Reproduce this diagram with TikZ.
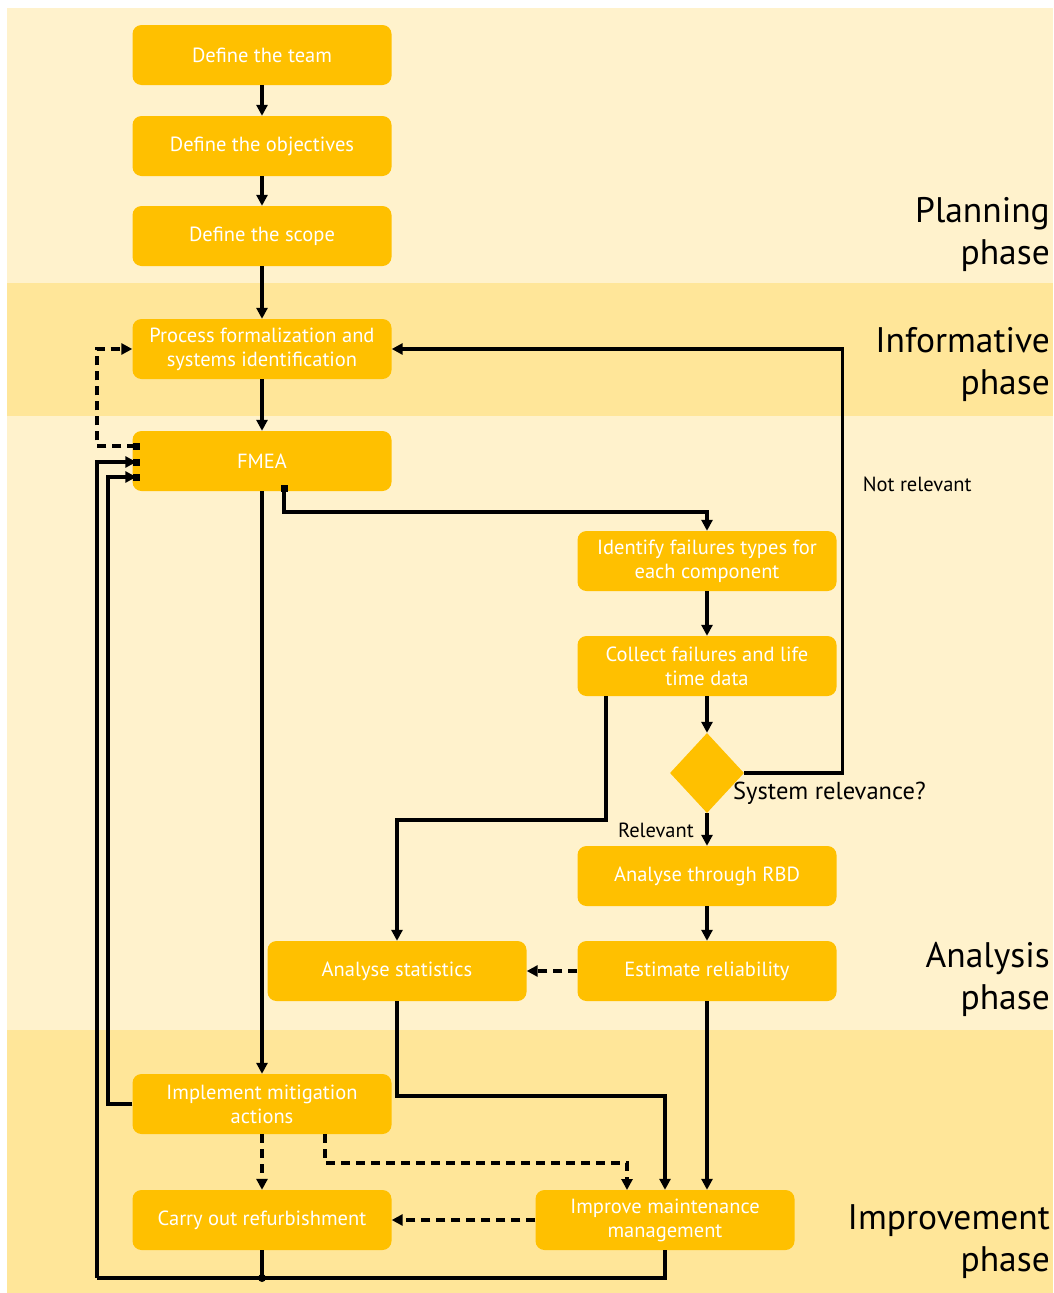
\documentclass[tikz,border=0pt]{standalone}
\usepackage{fontspec}
\setmainfont{PT Sans}
\usetikzlibrary{arrows.meta,shapes.geometric}
\definecolor{bandlight}{HTML}{FFF2CC}
\definecolor{banddark}{HTML}{FFE699}
\definecolor{boxfill}{HTML}{FFC000}
\tikzset{
  tri/.tip={Triangle[length=11pt,width=11pt]},
  stepbox/.style={draw=none, fill=boxfill, rounded corners=9pt, minimum width=259pt,
    minimum height=60pt, text=white, align=center, font=\fontsize{20.5}{24}\selectfont,
    inner sep=2pt},
  decision/.style={diamond, fill=boxfill, minimum width=74pt, minimum height=80pt, inner sep=0pt},
  flow/.style={line width=3.2pt, -tri},
  link/.style={line width=3.2pt},
  dashedflow/.style={flow, dash pattern=on 9pt off 6pt},
  phase/.style={anchor=east, align=right, font=\fontsize{35.5}{42}\selectfont, inner sep=0pt},
  edgelabel/.style={font=\fontsize{20.5}{24}\selectfont, inner sep=0pt}
}
\begin{document}
\begin{tikzpicture}[x=1pt,y=-1pt]
\useasboundingbox (0,0) rectangle (1053,1293);
% phase bands
\fill[bandlight] (7,8) rectangle (1053,283);
\fill[banddark] (7,283) rectangle (1053,416);
\fill[bandlight] (7,416) rectangle (1053,1030);
\fill[banddark] (7,1030) rectangle (1053,1293);

% phase titles
\node[phase] (pplan) at (1050,234) {Planning\\phase};
\node[phase] (pinfo) at (1050,364) {Informative\\phase};
\node[phase] (panal) at (1050,979) {Analysis\\phase};
\node[phase] (pimpr) at (1050,1242) {Improvement\\phase};

% steps
\node[stepbox] (team) at (262,55) {Define the team};
\node[stepbox] (obj) at (262,146) {Define the objectives};
\node[stepbox] (scope) at (262,236) {Define the scope};
\node[stepbox] (proc) at (262,349) {Process formalization and\\systems identification};
\node[stepbox] (fmea) at (262,461) {FMEA};
\node[stepbox] (ident) at (707,561) {Identify failures types for\\each component};
\node[stepbox] (collect) at (707,666) {Collect failures and life\\time data};
\node[decision] (dia) at (707,773) {};
\node[stepbox] (rbd) at (707,876) {Analyse through RBD};
\node[stepbox] (est) at (707,971) {Estimate reliability};
\node[stepbox] (stat) at (397,971) {Analyse statistics};
\node[stepbox] (impl) at (262,1104) {Implement mitigation\\actions};
\node[stepbox] (refurb) at (262,1220) {Carry out refurbishment};
\node[stepbox] (maint) at (665,1220) {Improve maintenance\\management};

\node[edgelabel, anchor=west] (qlabel) at (733,793) {\fontsize{24.5}{28}\selectfont System relevance?};
\node[edgelabel, anchor=east] (rel) at (694,830) {Relevant};

% planning chain
\draw[flow] (team) -- (obj);
\draw[flow] (obj) -- (scope);
\draw[flow] (scope) -- (proc);
\draw[flow] (proc) -- (fmea);

% not relevant feedback
\draw[flow] (dia.east) -- ++(98,0) |- node[pos=0.34, edgelabel, anchor=west, xshift=19pt] (nrel) {Not relevant} (proc.east);

% dashed loop FMEA -> process
\coordinate (fout) at ([xshift=4pt,yshift=15pt]fmea.west);
\draw[dashedflow] (fout) -- (97,446) |- (proc.west);

% FMEA -> identification
\coordinate (fdown) at ([xshift=22pt,yshift=3pt]fmea.south);
\draw[flow] (fdown) -- (284,512) -| (ident.north);
\draw[flow] (fmea) -- (impl);
\draw[flow] (ident) -- (collect);
\draw[flow] (collect) -- (dia);
\draw[flow] (dia) -- (rbd);
\draw[flow] (rbd) -- (est);
\draw[flow] ([xshift=-101pt]collect.south) -- (606,820) -| (stat.north);
\draw[dashedflow] (est) -- (stat);

% into maintenance
\draw[flow] (stat.south) |- (520,1096) -| (maint.north);
\draw[flow] (est.south) -- (est.south |- maint.north);
\draw[dashedflow] ([xshift=63pt]impl.south) |- (627,1163) -- (627,1190);
\draw[dashedflow] (impl) -- (refurb);
\draw[dashedflow] (maint) -- (refurb);

% return loops to FMEA
\coordinate (fin1) at ([xshift=4pt,yshift=-1pt]fmea.west);
\coordinate (fin2) at ([xshift=4pt,yshift=-16pt]fmea.west);
\draw[flow] (impl.west) -- (108,1104) |- (fin2);
\draw[link] (maint.south) -- (665,1278) -- (97,1278);
\draw[flow] (97,1278) |- (fin1);
\draw[link] (refurb.south) -- (262,1278);
\fill (262,1278) circle (4pt);

% connection markers on FMEA
\foreach \p in {fout,fin1,fin2,fdown}
  \fill (\p) ++(-3.5,-3.5) rectangle ++(7,7);
\end{tikzpicture}
\end{document}
